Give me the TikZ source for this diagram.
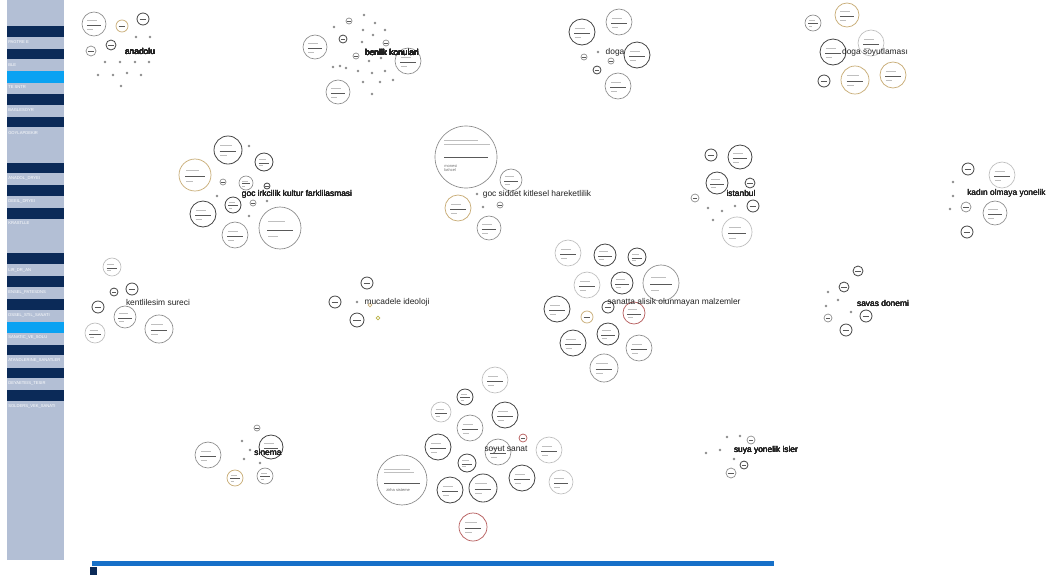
\documentclass[tikz,border=0pt]{standalone}
\usepackage{fontspec}
\newfontfamily\labfont{Liberation Sans}
\definecolor{sidelight}{HTML}{B3BFD5}
\definecolor{sidedark}{HTML}{0B2A58}
\definecolor{sidecyan}{HTML}{0AA2F2}
\definecolor{barblue}{HTML}{1670C8}
\definecolor{ringgray}{HTML}{8A8A8A}
\definecolor{ringdark}{HTML}{444444}
\definecolor{ringlight}{HTML}{BDBDBD}
\definecolor{ringgold}{HTML}{C9AE78}
\definecolor{ringred}{HTML}{B86060}
\definecolor{labgray}{HTML}{222222}
\tikzset{
  rg/.style={draw=ringgray,line width=0.5pt},
  rd/.style={draw=ringdark,line width=0.6pt},
  rl/.style={draw=ringlight,line width=0.5pt},
  ro/.style={draw=ringgold,line width=0.55pt},
  rr/.style={draw=ringred,line width=0.55pt},
  txtline/.style={draw=black!25,line width=0.35pt},
  barline/.style={draw=black!65,line width=0.6pt},
  lbl/.style={font=\labfont\fontsize{6.3}{7}\selectfont,text=labgray,inner sep=0pt},
  lblw/.style={font=\labfont\fontsize{6.3}{7}\selectfont,text=labgray,inner sep=0pt,anchor=west},
  sidetxt/.style={font=\labfont\fontsize{3.1}{3.5}\selectfont,text=white,inner sep=0pt,anchor=west},
}
\newcommand\bub[4]{%
  \draw[#4] (#1,#2) circle[radius=#3];
  \draw[txtline] ({#1-0.55*#3},{#2-0.32*#3}) -- ({#1+0.25*#3},{#2-0.32*#3});
  \draw[barline] ({#1-0.6*#3},{#2+0.1*#3}) -- ({#1+0.6*#3},{#2+0.1*#3});
  \draw[txtline] ({#1-0.55*#3},{#2+0.4*#3}) -- ({#1-0.1*#3},{#2+0.4*#3});
}
\newcommand\sbub[4]{%
  \draw[#4] (#1,#2) circle[radius=#3];
  \draw[barline] ({#1-0.55*#3},{#2}) -- ({#1+0.55*#3},{#2});
}
\newcommand\dt[2]{\fill[black!45] (#1,#2) circle[radius=1.3];}
\begin{document}
\begin{tikzpicture}[x=0.75pt,y=-0.75pt]
\useasboundingbox (0,0) rectangle (1054,576);
\clip (0,0) rectangle (1054,576);
\fill[white] (0,0) rectangle (1054,576);
% ---------- sidebar ----------
\fill[sidelight] (7,0) rectangle (64,560);
\foreach \a/\b in {26/37,49/59,94/105,117/127,163/173,185/196,208/219,253/264,276/287,299/310,345/355,368/378,390/401}
  \fill[sidedark] (7,\a) rectangle (64,\b);
\fill[sidecyan] (7,71) rectangle (64,83);
\fill[sidecyan] (7,322) rectangle (64,333);
\node[sidetxt] (s1) at (8,42) {PAGTRE E};
\node[sidetxt] (s2) at (8,65) {BLE};
\node[sidetxt] (s3) at (8,87) {TE SNTR};
\node[sidetxt] (s4) at (8,110) {BAGLESOYR};
\node[sidetxt] (s5) at (8,133) {GOYLAPDEKIR};
\node[sidetxt] (s6) at (8,178) {ANADOL\_DRYEI};
\node[sidetxt] (s7) at (8,201) {DEEIL\_DRYEI};
\node[sidetxt] (s8) at (8,223) {KRASTLLE};
\node[sidetxt] (s9) at (8,270) {LIR\_DR\_AN};
\node[sidetxt] (s10) at (8,292) {ENSEL\_PATESDNS};
\node[sidetxt] (s11) at (8,315) {DSSEL\_STIL\_SANATI};
\node[sidetxt] (s12) at (8,337) {SANATIC\_VE\_SOLU};
\node[sidetxt] (s13) at (8,360) {ATANDLERINE\_SANATLER};
\node[sidetxt] (s14) at (8,383) {DEYAETEIS\_TESIR};
\node[sidetxt] (s15) at (8,406) {SOLDERS\_VEK\_SANATI};
% ---------- bottom bar ----------
\fill[barblue] (92,561) rectangle (774,566);
\fill[sidedark] (90,567) rectangle (97,575);
% ---------- anadolu ----------
\bub{94}{24}{12}{rg}
\sbub{122}{26}{6}{ro}
\sbub{143}{19}{6}{rd}
\sbub{111}{45}{5}{rd}
\sbub{91}{51}{5}{rg}
\foreach \p/\q in {136/37,150/37,105/62,120/62,135/62,149/62,98/75,113/75,127/73,141/75,121/86} \dt{\p}{\q}
\node[lbl] (anadolu) at (140,51) {anadolu};
% ---------- benlik ----------
\bub{315}{47}{12}{rg}
\bub{408}{61}{13}{rg}
\bub{338}{92}{12}{rg}
\sbub{349}{21}{3}{rg}
\sbub{343}{39}{4}{rd}
\sbub{356}{56}{3}{rg}
\sbub{386}{43}{3}{rg}
\foreach \p/\q in {364/15,375/23,334/27,363/30,373/35,385/30,362/42,340/66,369/61,381/58,333/67,346/68,358/71,372/73,385/71,363/82,380/82,393/80,372/94} \dt{\p}{\q}
\node[lbl] (benlik) at (392,52) {benlik konulari};
% ---------- doga ----------
\bub{582}{32}{13}{rd}
\bub{619}{22}{13}{rg}
\bub{637}{55}{13}{rd}
\bub{618}{86}{13}{rg}
\sbub{597}{70}{4}{rd}
\sbub{584}{57}{3}{rg}
\sbub{611}{61}{3}{rg}
\dt{598}{52}
\node[lbl] (doga) at (615,52) {doga};
% ---------- doga soyutlamasi ----------
\bub{813}{23}{8}{rg}
\bub{847}{15}{12}{ro}
\bub{833}{52}{13}{rd}
\bub{871}{43}{13}{rl}
\sbub{824}{81}{6}{rd}
\bub{855}{80}{14}{ro}
\bub{893}{75}{13}{ro}
\node[lbl] (dogasoy) at (875,52) {doga soyutlamas\i};
% ---------- goc ----------
\bub{228}{150}{14}{rd}
\bub{264}{162}{9}{rd}
\bub{195}{175}{16}{ro}
\bub{246}{183}{7}{rg}
\bub{233}{205}{8}{rd}
\bub{203}{214}{13}{rd}
\bub{235}{235}{13}{rg}
\bub{280}{228}{21}{rg}
\sbub{223}{182}{3}{rg}
\sbub{267}{186}{3}{rd}
\sbub{253}{203}{3}{rg}
\foreach \p/\q in {217/196,249/146,267/201,249/216} \dt{\p}{\q}
\node[lbl] (goc) at (297,194) {goc irkcilik kultur farklilasmasi};
% ---------- gbc ----------
\draw[rg] (466,157) circle[radius=31];
\draw[txtline] (444,140) -- (478,140);
\draw[txtline] (444,144) -- (490,144);
\draw[barline] (444,157) -- (488,157);
\node[font=\labfont\fontsize{3}{3.5}\selectfont,text=black!55,anchor=west,align=left,inner sep=0pt] (gbcbig) at (444,168) {monesi\\ bahcel};
\bub{511}{180}{11}{rg}
\bub{458}{208}{13}{ro}
\bub{489}{228}{12}{rg}
\sbub{500}{205}{3}{rg}
\dt{483}{207}
\dt{477}{194}
\node[lbl] (gbc) at (537,194) {goc siddet kitlesel hareketlilik};
% ---------- istanbul ----------
\bub{740}{157}{12}{rd}
\sbub{711}{155}{6}{rd}
\bub{717}{183}{11}{rd}
\sbub{750}{183}{5}{rd}
\sbub{753}{206}{6}{rd}
\sbub{695}{198}{4}{rg}
\bub{737}{232}{15}{rl}
\foreach \p/\q in {708/208,722/211,735/206,713/220} \dt{\p}{\q}
\node[lbl] (istanbul) at (741,193) {istanbul};
% ---------- kadin ----------
\sbub{968}{169}{6}{rd}
\bub{1002}{175}{13}{rl}
\sbub{966}{207}{5}{rg}
\bub{995}{213}{12}{rg}
\sbub{967}{232}{6}{rd}
\foreach \p/\q in {953/182,953/196,950/209} \dt{\p}{\q}
\node[lblw] (kadin) at (967,193) {kad\i n olmaya yonelik};
% ---------- kentlesme ----------
\bub{112}{267}{9}{rl}
\sbub{132}{289}{6}{rd}
\sbub{114}{292}{4}{rd}
\sbub{98}{307}{6}{rd}
\bub{125}{317}{11}{rg}
\bub{95}{333}{10}{rl}
\bub{159}{329}{14}{rg}
\node[lbl] (kent) at (158,302) {kentlilesim sureci};
% ---------- mucadele ----------
\sbub{367}{283}{6}{rd}
\sbub{335}{302}{6}{rd}
\sbub{357}{320}{7}{rd}
\dt{357}{302}
\draw[ro] (370,305) circle[radius=1.8];
\draw[draw=olive!60,line width=0.5pt] (378,318) circle[radius=1.8];
\node[lbl] (mucadele) at (397,302) {mucadele ideoloji};
% ---------- sanatta ----------
\bub{568}{253}{13}{rl}
\bub{605}{255}{11}{rd}
\bub{637}{257}{9}{rd}
\bub{587}{285}{13}{rl}
\bub{622}{283}{11}{rd}
\bub{661}{283}{18}{rg}
\bub{557}{309}{13}{rd}
\sbub{587}{317}{6}{ro}
\sbub{608}{307}{6}{rd}
\bub{634}{313}{11}{rr}
\bub{608}{334}{11}{rd}
\bub{573}{343}{13}{rd}
\bub{639}{348}{13}{rg}
\bub{604}{368}{14}{rg}
\node[lbl] (sanatta) at (674,302) {sanatta alisik olunmayan malzemler};
% ---------- savas ----------
\sbub{858}{271}{5}{rd}
\sbub{844}{287}{5}{rd}
\sbub{828}{318}{4}{rg}
\sbub{866}{316}{6}{rd}
\sbub{846}{330}{6}{rd}
\foreach \p/\q in {828/292,838/300,826/306,851/312} \dt{\p}{\q}
\node[lbl] (savas) at (883,303) {savas donemi};
% ---------- sinema ----------
\bub{208}{455}{13}{rg}
\bub{271}{447}{12}{rd}
\bub{235}{478}{8}{ro}
\bub{265}{476}{8}{rg}
\sbub{257}{428}{3}{rg}
\foreach \p/\q in {242/441,250/450,244/459,260/463} \dt{\p}{\q}
\node[lbl] (sinema) at (268,452) {sinema};
% ---------- soyut sanat ----------
\bub{495}{380}{13}{rl}
\bub{465}{397}{8}{rd}
\bub{441}{412}{10}{rl}
\bub{505}{415}{13}{rd}
\bub{470}{428}{13}{rg}
\bub{438}{447}{13}{rd}
\bub{498}{452}{13}{rg}
\sbub{523}{438}{4}{rr}
\bub{549}{450}{13}{rl}
\bub{467}{463}{9}{rd}
\draw[rg] (402,480) circle[radius=25];
\draw[txtline] (384,469) -- (410,469);
\draw[txtline] (384,472) -- (414,472);
\draw[barline] (384,483) -- (420,483);
\node[font=\labfont\fontsize{3}{3.5}\selectfont,text=black!60,anchor=west,inner sep=0pt] (soyutbig) at (386,490) {zirha sisteme};
\bub{450}{490}{13}{rd}
\bub{483}{488}{14}{rd}
\bub{522}{478}{13}{rd}
\bub{561}{482}{12}{rl}
\bub{473}{527}{14}{rr}
\node[lbl] (soyut) at (506,450) {soyut sanat};
% ---------- suya ----------
\sbub{751}{440}{4}{rg}
\sbub{744}{465}{4}{rd}
\sbub{731}{473}{5}{rg}
\foreach \p/\q in {727/437,740/436,706/453,720/450,734/459} \dt{\p}{\q}
\node[lbl] (suya) at (766,450) {suya yonelik isler};
\end{tikzpicture}
\end{document}
